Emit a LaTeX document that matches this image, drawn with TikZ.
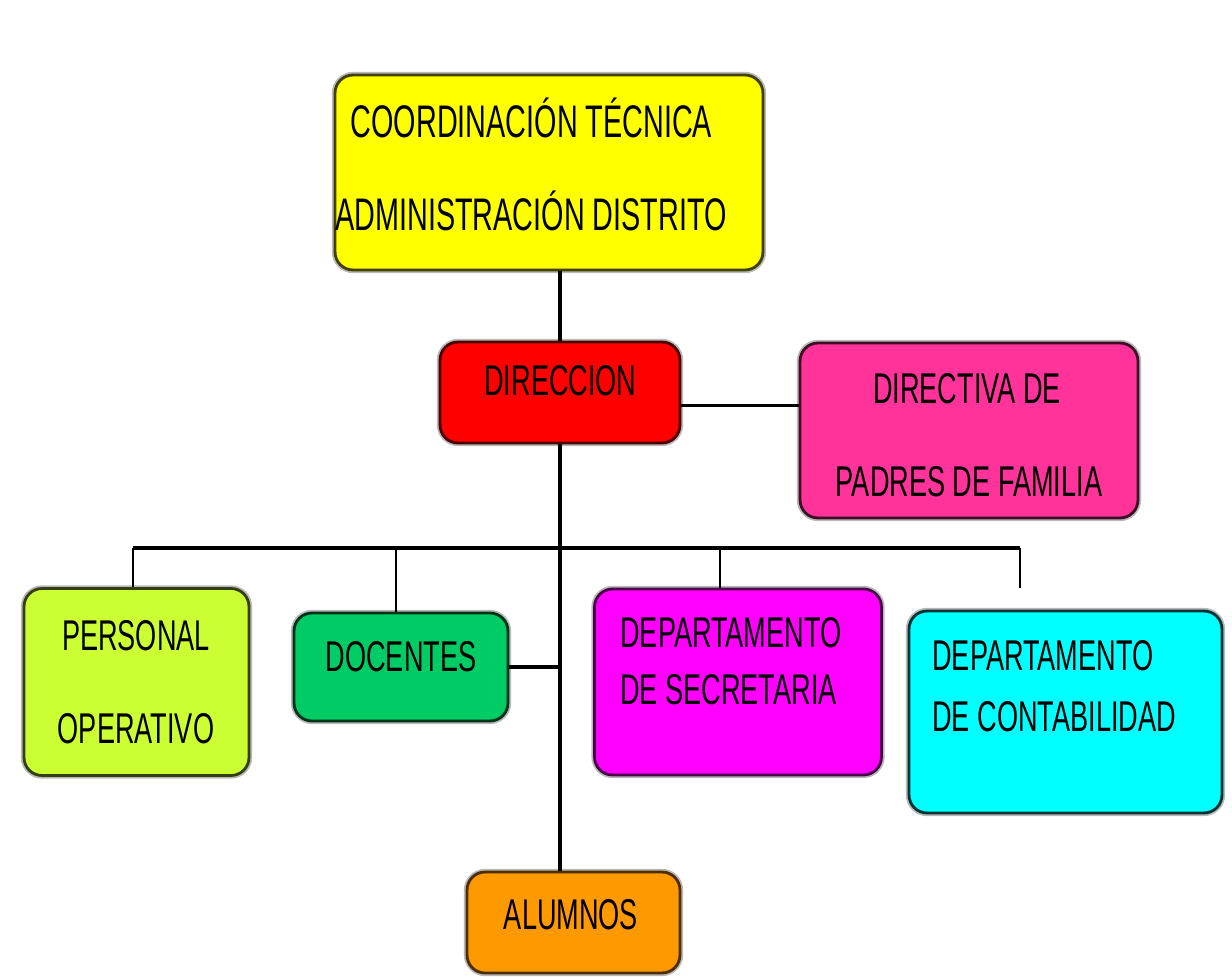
\documentclass[tikz,border=0pt]{standalone}
\usepackage{fontspec}
\setmainfont[FakeStretch=0.63]{Liberation Sans}
\usetikzlibrary{calc,positioning,shapes}

\definecolor{coordfill}{HTML}{FFFF00}
\definecolor{dirfill}{HTML}{FF0000}
\definecolor{padfill}{HTML}{FF3399}
\definecolor{persfill}{HTML}{CCFF33}
\definecolor{docfill}{HTML}{00CC66}
\definecolor{secfill}{HTML}{FF00FF}
\definecolor{contfill}{HTML}{00FFFF}
\definecolor{alufill}{HTML}{FF9900}

\begin{document}
\begin{tikzpicture}[x=0.02cm, y=-0.02cm,
    orgbox/.style={rectangle, rounded corners=0.36cm, line width=1.6pt,
        preaction={draw=gray!55, line width=3.6pt}},
    orgtext/.style={inner sep=0pt, anchor=base, font=\fontsize{24.5pt}{28pt}\selectfont},
    leftline/.style={orgtext, anchor=base west},
    link/.style={line width=2.1pt},
    drop/.style={line width=1.4pt}]
                \useasboundingbox (0,0) rectangle (1232,977);
                \node[orgbox, fill=coordfill, draw=coordfill!25!black, minimum width=8.56cm, minimum height=3.9cm] (coord) at (549,172.5) {};
                \node[orgtext, font=\fontsize{26pt}{30pt}\selectfont] (coord1) at (531.5,137) {COORDINACIÓN TÉCNICA};
                \node[orgtext, font=\fontsize{26pt}{30pt}\selectfont] (coord2) at (531,230) {ADMINISTRACIÓN DISTRITO};
                \node[orgbox, fill=dirfill, draw=dirfill!30!black, minimum width=4.8cm, minimum height=2.02cm] (dir) at (560,392.5) {};
                \node[orgtext] (dir1) at (560.5,395) {DIRECCION};
                \node[orgbox, fill=padfill, draw=padfill!25!black, minimum width=6.76cm, minimum height=3.5cm] (pad) at (969,430.5) {};
                \node[orgtext] (pad1) at (967,403) {DIRECTIVA DE};
                \node[orgtext] (pad2) at (969,496) {PADRES DE FAMILIA};
                \node[orgbox, fill=persfill, draw=persfill!25!black, minimum width=4.5cm, minimum height=3.74cm] (pers) at (136.5,682) {};
                \node[orgtext] (pers1) at (136,650) {PERSONAL};
                \node[orgtext] (pers2) at (136,743) {OPERATIVO};
                \node[orgbox, fill=docfill, draw=docfill!25!black, minimum width=4.28cm, minimum height=2.16cm] (doc) at (401,667) {};
                \node[orgtext] (doc1) at (401,671) {DOCENTES};
                \node[orgbox, fill=secfill, draw=secfill!30!black, minimum width=5.74cm, minimum height=3.72cm] (sec) at (738,682) {};
                \node[leftline] (sec1) at (620,647) {DEPARTAMENTO};
                \node[leftline] (sec2) at (620,704) {DE SECRETARIA};
                \node[orgbox, fill=contfill, draw=contfill!20!black, minimum width=6.26cm, minimum height=4.04cm] (cont) at (1065.5,712) {};
                \node[leftline] (cont1) at (932,670) {DEPARTAMENTO};
                \node[leftline] (cont2) at (932,731) {DE CONTABILIDAD};
                \node[orgbox, fill=alufill, draw=alufill!30!black, minimum width=4.26cm, minimum height=2.02cm] (alu) at (573.5,922.5) {};
                \node[orgtext] (alu1) at (571,929) {ALUMNOS};
                % lineas
                \coordinate (dirr) at ($(dir.east)+(0,13)$);
                \coordinate (bus1) at (133,548);
                \coordinate (bus2) at (396,548);
                \coordinate (bus3) at (720,548);
                \coordinate (bus4) at (1020,548);
                \coordinate (busend) at (1020,588);
                \draw[link] (dir.north) -- (dir.north |- coord.south);
                \draw[link] (dirr) -- (dirr -| pad.west);
                \draw[link] (dir.south) -- (dir.south |- alu.north);
                \draw[link] (bus1) -- (bus4);
                \draw[drop] (bus1) -- (bus1 |- pers.north);
                \draw[drop] (bus2) -- (bus2 |- doc.north);
                \draw[drop] (bus3) -- (bus3 |- sec.north);
                \draw[drop] (bus4) -- (busend);
                \draw[link] (doc.east) -- (doc.east -| dir.south);
            \end{tikzpicture}
\end{document}
